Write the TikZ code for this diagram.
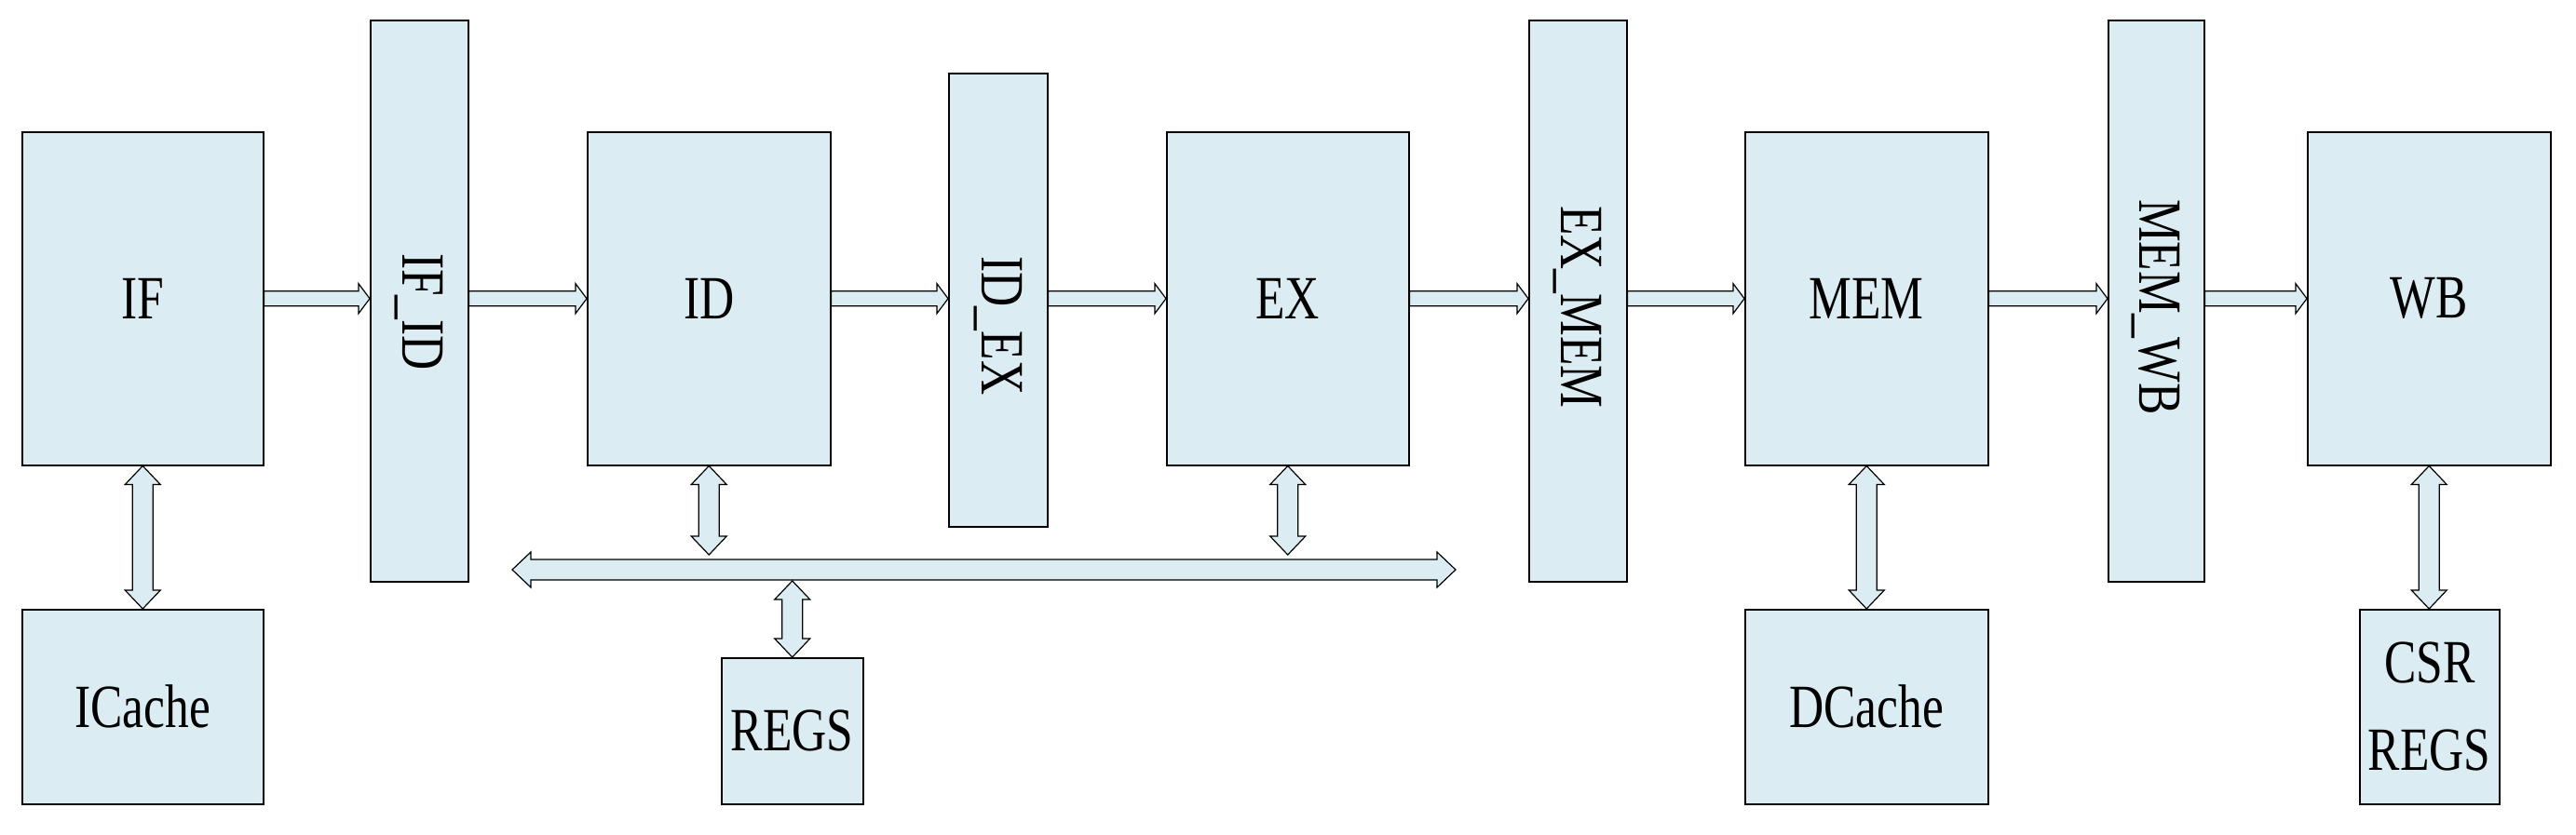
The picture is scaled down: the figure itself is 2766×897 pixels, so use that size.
\documentclass[tikz,border=0pt]{standalone}
\usepackage{fontspec}
\setmainfont{Liberation Serif}
\usetikzlibrary{calc}
\definecolor{bx}{RGB}{219,237,243}
\tikzset{
 blk/.style={draw=black,line width=1.5pt,fill=bx,inner sep=0pt},
 arr/.style={draw=black,line width=1.2pt,fill=bx},
}
\newcommand\lbl[1]{\scalebox{0.78}[1]{\fontsize{66}{74}\selectfont #1}}
\newcommand\blk[6]{\node[blk,minimum width=#3pt,minimum height=#4pt,anchor=north west] (#1) at (#2) {};
 \node[rotate=#6] at (#1.center) {\lbl{#5}};}
\newcommand\rblk[6]{\node[blk,minimum width=#3pt,minimum height=#4pt,anchor=north west] (#1) at (#2) {};
 \node[rotate=-90] at (#1.center |- 0,#6) {\lbl{#5}};}
\newcommand\harr[2]{\draw[arr] let \p1=(#1), \p2=(#2) in (\x1,\y1+8pt) -- (\x2-12pt,\y1+8pt) -- (\x2-12pt,\y1+16pt) -- (\x2,\y1) -- (\x2-12pt,\y1-16pt) -- (\x2-12pt,\y1-8pt) -- (\x1,\y1-8pt) -- cycle;}
\newcommand\vdarr[2]{\draw[arr] let \p1=(#1), \p2=(#2) in (\x1,\y1) -- (\x1+19pt,\y1-20pt) -- (\x1+11pt,\y1-20pt) -- (\x1+11pt,\y2+20pt) -- (\x1+19pt,\y2+20pt) -- (\x1,\y2) -- (\x1-19pt,\y2+20pt) -- (\x1-11pt,\y2+20pt) -- (\x1-11pt,\y1-20pt) -- (\x1-19pt,\y1-20pt) -- cycle;}
\newcommand\hdarr[2]{\draw[arr] let \p1=(#1), \p2=(#2) in (\x1,\y1) -- (\x1+20pt,\y1+19pt) -- (\x1+20pt,\y1+11pt) -- (\x2-20pt,\y1+11pt) -- (\x2-20pt,\y1+19pt) -- (\x2,\y1) -- (\x2-20pt,\y1-19pt) -- (\x2-20pt,\y1-11pt) -- (\x1+20pt,\y1-11pt) -- (\x1+20pt,\y1-19pt) -- cycle;}
\begin{document}
\begin{tikzpicture}[x=1pt,y=-1pt]
\useasboundingbox (0,0) rectangle (2766,897);
\blk{IF}{23,141}{259}{358}{IF}{0}
\rblk{IFID}{397,21}{105}{603}{IF\_ID}{335}
\blk{ID}{630,141}{261}{358}{ID}{0}
\rblk{IDEX}{1018,78}{106}{487}{ID\_EX}{350}
\blk{EX}{1252,141}{260}{358}{EX}{0}
\rblk{EXMEM}{1641,21}{105}{603}{EX\_MEM}{330}
\blk{MEM}{1873,141}{261}{358}{MEM}{0}
\rblk{MEMWB}{2263,21}{103}{603}{MEM\_WB}{330}
\blk{WB}{2477,141}{261}{358}{WB}{0}
\blk{IC}{23,654}{259}{209}{ICache}{0}
\blk{REGS}{774,706}{152}{157}{REGS}{0}
\blk{DC}{1873,654}{261}{209}{DCache}{0}
\node[blk,minimum width=150pt,minimum height=209pt,anchor=north west] (CSR) at (2533,654) {};
\node at ([yshift=47pt]CSR.center) {\lbl{CSR}};
\node at ([yshift=-47pt]CSR.center) {\lbl{REGS}};
\harr{IF.east}{IFID.west |- IF.east}
\harr{IFID.east |- ID.west}{ID.west}
\harr{ID.east}{IDEX.west |- ID.east}
\harr{IDEX.east |- EX.west}{EX.west}
\harr{EX.east}{EXMEM.west |- EX.east}
\harr{EXMEM.east |- MEM.west}{MEM.west}
\harr{MEM.east}{MEMWB.west |- MEM.east}
\harr{MEMWB.east |- WB.west}{WB.west}
\coordinate (busL) at (550,612);
\coordinate (busR) at (1563,612);
\hdarr{busL}{busR}
\vdarr{IF.south}{IC.north}
\vdarr{ID.south}{ID.south |- 0,596}
\vdarr{EX.south}{EX.south |- 0,596}
\vdarr{REGS.north |- 0,624}{REGS.north}
\vdarr{MEM.south}{DC.north}
\vdarr{WB.south}{CSR.north}
\end{tikzpicture}
\end{document}
